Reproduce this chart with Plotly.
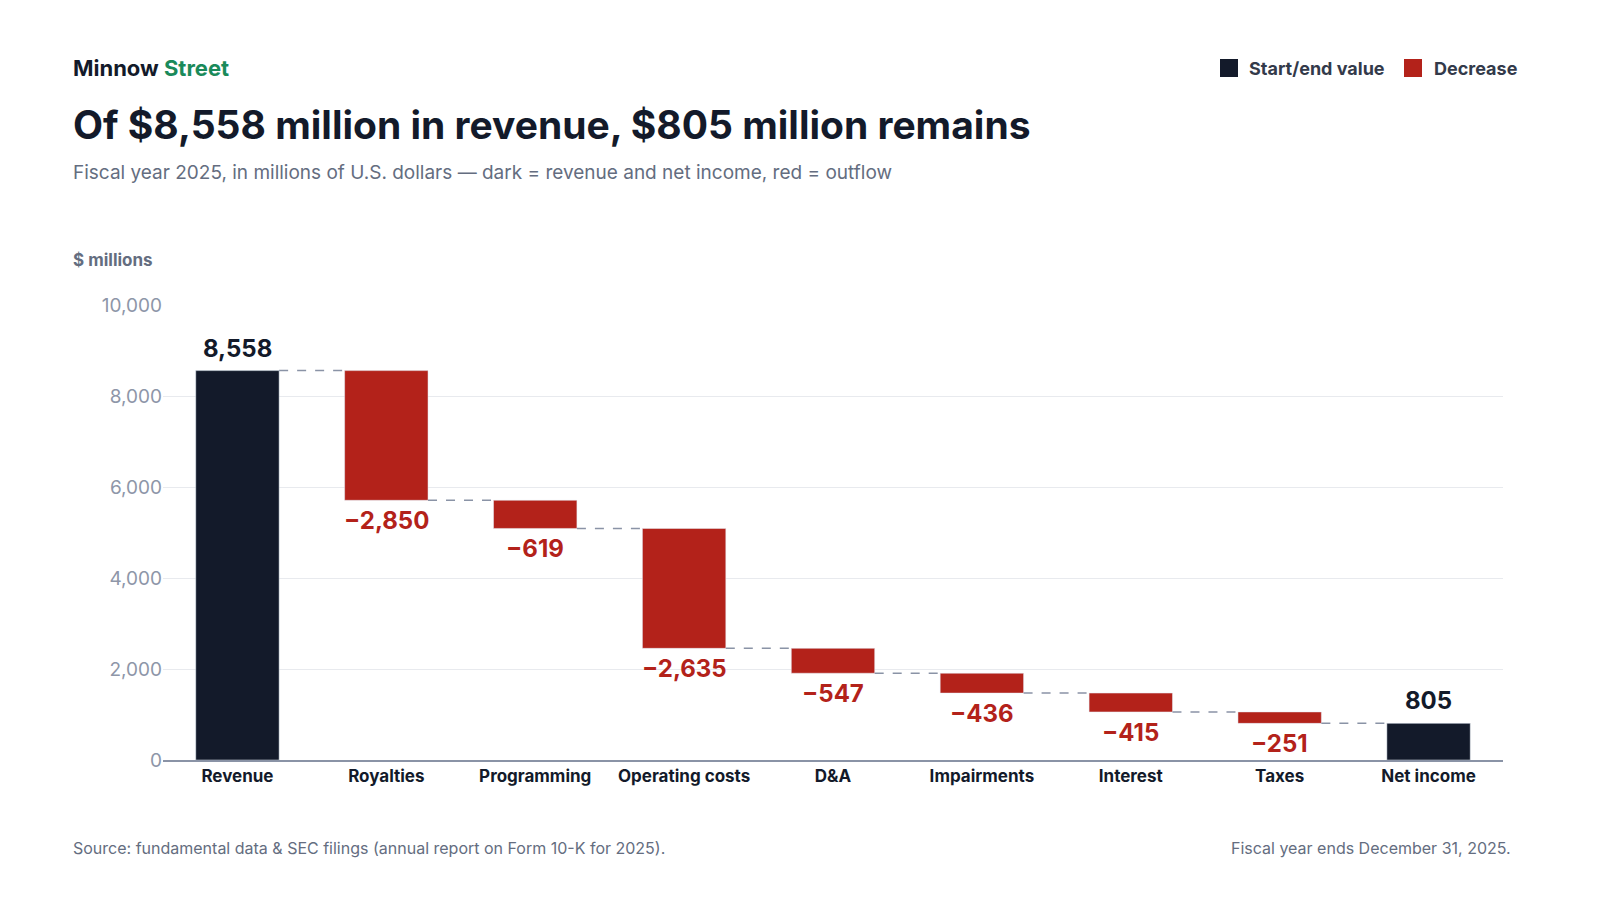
import plotly.graph_objects as go

# data
categories = ["Revenue", "Royalties", "Programming", "Operating costs", "D&A",
              "Impairments", "Interest", "Taxes", "Net income"]
changes = [8558, -2850, -619, -2635, -547, -436, -415, -251, 805]
kinds = ["total", "dec", "dec", "dec", "dec", "dec", "dec", "dec", "total"]

DARK = "#131a2a"
RED = "#b3221a"
FONT = "Inter"

# compute bases
bases, heights, tops = [], [], []
running = 0
for v, k in zip(changes, kinds):
    if k == "total":
        bases.append(0); heights.append(v); running = v
    else:
        bases.append(running + v); heights.append(-v); running = running + v
    tops.append(running)

colors = [DARK if k == "total" else RED for k in kinds]

fig = go.Figure(go.Bar(x=categories, y=heights, base=bases, marker_color=colors,
                       width=0.56, hoverinfo="skip"))

# labels
for i, (v, k) in enumerate(zip(changes, kinds)):
    if k == "total":
        fig.add_annotation(x=categories[i], y=v, text=f"{v:,}", showarrow=False,
                           yanchor="bottom", yshift=6,
                           font=dict(size=24, color=DARK, family=FONT, weight="bold"))
    else:
        fig.add_annotation(x=categories[i], y=bases[i], text=f"\u2212{-v:,}", showarrow=False,
                           yanchor="top", yshift=-4,
                           font=dict(size=24, color=RED, family=FONT, weight="bold"))

# connectors
level = changes[0]
for i in range(len(categories) - 1):
    nxt = level + changes[i + 1] if kinds[i + 1] == "dec" else level
    fig.add_shape(type="line", xref="x", yref="y", x0=i + 0.28, x1=i + 1 - 0.28,
                  y0=level, y1=level, line=dict(color="#8a93a6", width=1.5, dash="dash"))
    level = nxt

def px_x(p):
    return (p - 155) / 1340

def px_y(p):
    return (752 - p) / 455

texts = [
    (63, 60, "<b>Minnow <span style='color:#1a8a5a'>Street</span></b>", 22, DARK, "left"),
    (63, 116, "<b>Of $8,558 million in revenue, $805 million remains</b>", 39, DARK, "left"),
    (63, 165, "Fiscal year 2025, in millions of U.S. dollars \u2014 dark = revenue and net income, red = outflow", 19, "#646d80", "left"),
    (63, 252, "<b>$ millions</b>", 17, "#646d80", "left"),
    (63, 840, "Source: fundamental data & SEC filings (annual report on Form 10-K for 2025).", 16, "#646d80", "left"),
    (1505, 840, "Fiscal year ends December 31, 2025.", 16, "#646d80", "right"),
    (1239, 60, "<b>Start/end value</b>", 18, "#333a4a", "left"),
    (1424, 60, "<b>Decrease</b>", 18, "#333a4a", "left"),
]
for x, y, t, s, c, a in texts:
    fig.add_annotation(xref="paper", yref="paper", x=px_x(x), y=px_y(y), text=t,
                       showarrow=False, xanchor=a, yanchor="middle",
                       font=dict(size=s, color=c, family=FONT))

for x0, c in [(1212, DARK), (1396, RED)]:
    fig.add_shape(type="rect", xref="paper", yref="paper", x0=px_x(x0), x1=px_x(x0 + 18),
                  y0=px_y(69), y1=px_y(51), fillcolor=c, line_width=0)

fig.update_layout(
    width=1600, height=900, plot_bgcolor="white", paper_bgcolor="white",
    margin=dict(l=155, r=105, t=297, b=148), showlegend=False, bargap=0.44,
    font=dict(family=FONT),
)
fig.update_xaxes(showline=True, linecolor="#8a93a6", linewidth=1.5, ticks="",
                 tickfont=dict(size=17, color=DARK, family=FONT, weight="bold"))
fig.update_yaxes(range=[0, 10000], dtick=2000, tickformat=",", gridcolor="#e8eaee",
                 zeroline=False, ticks="", ticklen=10, tickcolor="white",
                 tickfont=dict(size=19, color="#8e96a8", family=FONT))

fig.write_html("out.html")
